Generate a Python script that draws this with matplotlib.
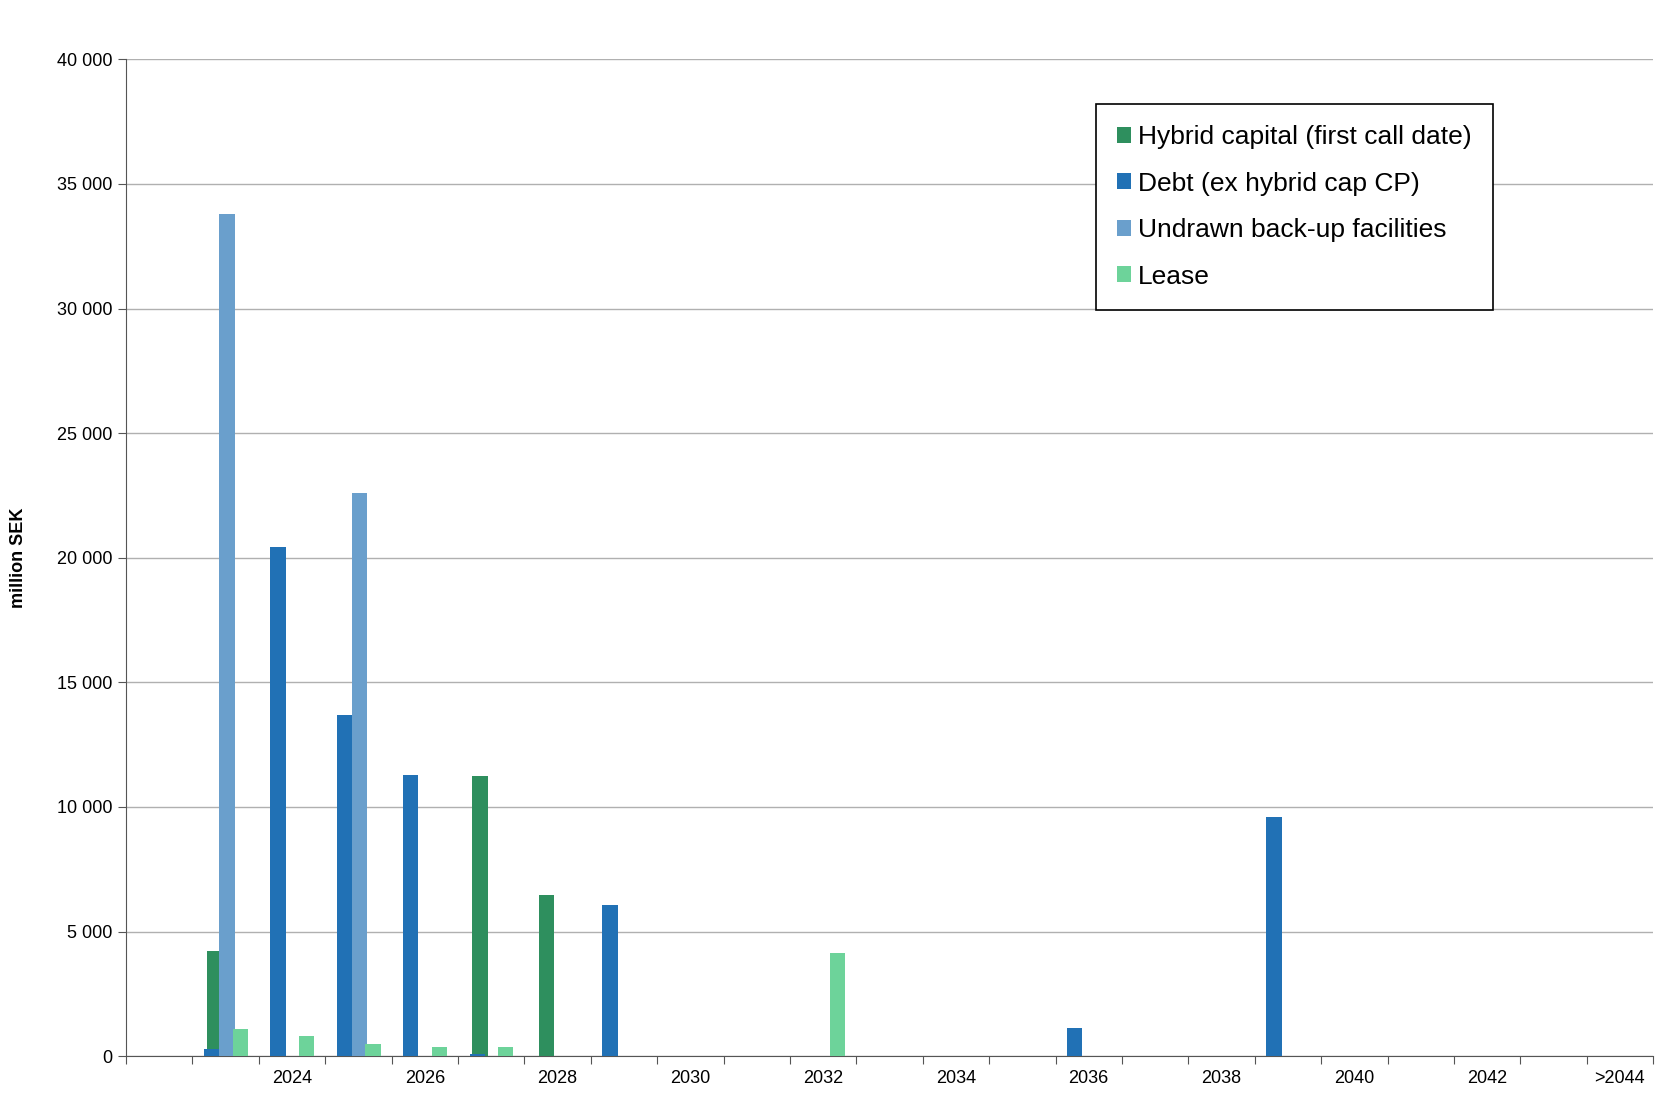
import matplotlib.pyplot as plt
import numpy as np

plt.rcParams['font.family'] = 'Liberation Sans'

years = [str(y) for y in range(2022, 2044)] + ['>2044']
hybrid = [0, 4200, 0, 0, 0, 11250, 6450] + [0] * 16
debt = [0, 300, 20450, 13700, 11300, 100, 0, 6050, 0, 0, 0, 0, 0, 0, 1150, 0, 0, 9600] + [0] * 5
undrawn = [0, 33800, 0, 22600] + [0] * 19
lease = [0, 1100, 800, 500, 350, 350, 0, 0, 0, 0, 4150] + [0] * 12

x = np.arange(len(years))
w = 0.23

fig = plt.figure(figsize=(16.8, 11.2), dpi=100)
ax = fig.add_axes([0.075, 0.057, 0.909, 0.89])

ax.bar(x - 0.17, hybrid, w, color='#2e8f5e', label='Hybrid capital (first call date)', zorder=3)
ax.bar(x - 0.21, debt, w, color='#2171b5', label='Debt (ex hybrid cap CP)', zorder=3)
ax.bar(x + 0.02, undrawn, w, color='#6a9fcc', label='Undrawn back-up facilities', zorder=3)
ax.bar(x + 0.22, lease, w, color='#6dd39a', label='Lease', zorder=3)

ax.set_xlim(-0.5, len(years) - 0.5)
ax.set_ylim(0, 40000)
ax.set_yticks(range(0, 40001, 5000))
ax.set_yticklabels([f'{v:,}'.replace(',', ' ') for v in range(0, 40001, 5000)], fontsize=13)
ax.yaxis.grid(True, color='#b0b0b0', linewidth=1, zorder=0)
ax.set_ylabel('million SEK', fontsize=13, fontweight='bold', labelpad=22)

# ticks at category boundaries, labels at every other category
ax.set_xticks(np.arange(len(years) + 1) - 0.5)
ax.set_xticklabels([])
ax.set_xticks(x[2::2], minor=True)
ax.set_xticklabels(years[2::2], minor=True, fontsize=13)
ax.tick_params(axis='x', which='major', direction='out', length=6, color='#555555')
ax.tick_params(axis='x', which='minor', length=0, pad=10)
ax.tick_params(axis='y', length=6, color='#555555')

for s in ['top', 'right']:
    ax.spines[s].set_visible(False)
ax.spines['left'].set_color('#555555')
ax.spines['bottom'].set_color('#555555')

leg = ax.legend(loc='upper left', bbox_to_anchor=(0.635, 0.955), fontsize=19,
                handlelength=0.55, handleheight=0.55, handletextpad=0.25,
                labelspacing=0.85, borderpad=0.8, borderaxespad=0,
                fancybox=False, framealpha=1)
leg.get_frame().set_edgecolor('black')
leg.get_frame().set_linewidth(1.2)
for t in leg.get_texts():
    t.set_x(0)

fig.canvas.draw()
# widen legend frame to match reference box
bb = leg.get_frame()
bb.set_width(bb.get_width() * 1.18)
leg._legend_box.set_offset(lambda *a, **k: leg._legend_box.get_offset(*a, **k)) if False else None

fig.savefig('out.png')
